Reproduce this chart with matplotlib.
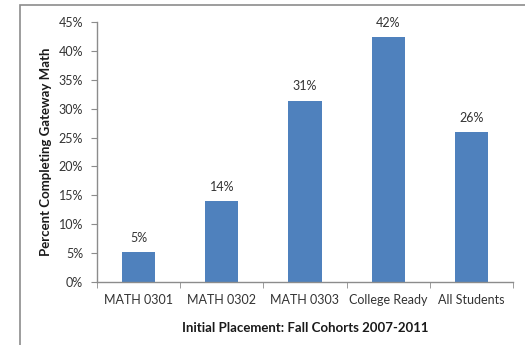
import matplotlib
matplotlib.use("Agg")
import matplotlib.pyplot as plt
from matplotlib.patches import Rectangle
from matplotlib.ticker import FixedLocator, NullFormatter

categories = ["MATH 0301", "MATH 0302", "MATH 0303", "College Ready", "All Students"]
completion_pct = [5.2, 14.0, 31.4, 42.4, 26.0]
y_ticks = [0, 5, 10, 15, 20, 25, 30, 35, 40, 45]

plt.rcParams["font.family"] = ["Lato", "DejaVu Sans"]

W, H = 525, 345
fig = plt.figure(figsize=(W / 100, H / 100), dpi=100)

# outer chart frame (right and bottom edges fall outside the canvas)
fig.patches.append(Rectangle((20 / W, -0.05), 1.0, 1.05 - 5 / H,
                             transform=fig.transFigure, fill=False,
                             edgecolor="#8c8c8c", linewidth=1.2))

ax = fig.add_axes([97 / W, 1 - 282 / H, (513 - 97) / W, (282 - 22) / H])

x = range(len(categories))
ax.bar(x, completion_pct, width=0.4, color="#4F81BD", zorder=2)
for xi, v in zip(x, completion_pct):
    ax.text(xi, v + 1.4, f"{v:.0f}%", ha="center", va="bottom",
            fontsize=9, color="#333333")

ax.set_xlim(-0.5, len(categories) - 0.5)
ax.set_ylim(0, 45)
ax.set_yticks(y_ticks)
ax.set_yticklabels([f"{t}%" for t in y_ticks], fontsize=9, color="#333333")

ax.set_xticks(list(x))
ax.set_xticklabels(categories, fontsize=9, color="#333333")
ax.tick_params(axis="x", which="major", length=0, pad=9)
ax.xaxis.set_minor_locator(FixedLocator([i + 0.5 for i in range(-1, len(categories))]))
ax.xaxis.set_minor_formatter(NullFormatter())
ax.tick_params(axis="x", which="minor", length=4, color="#8c8c8c", direction="out")
ax.tick_params(axis="y", length=4, color="#8c8c8c", direction="out", pad=6)

for s in ("top", "right"):
    ax.spines[s].set_visible(False)
for s in ("left", "bottom"):
    ax.spines[s].set_color("#8c8c8c")
    ax.spines[s].set_linewidth(1)

ax.set_ylabel("Percent Completing Gateway Math", fontsize=9.5, fontweight="bold",
              color="#1a1a1a")
ax.yaxis.set_label_coords(-45 / 416, 0.5)
ax.set_xlabel("Initial Placement: Fall Cohorts 2007-2011", fontsize=9.5,
              fontweight="bold", color="#1a1a1a")
ax.xaxis.set_label_coords(0.5, -40 / 260)

fig.savefig("out.png", dpi=100)
